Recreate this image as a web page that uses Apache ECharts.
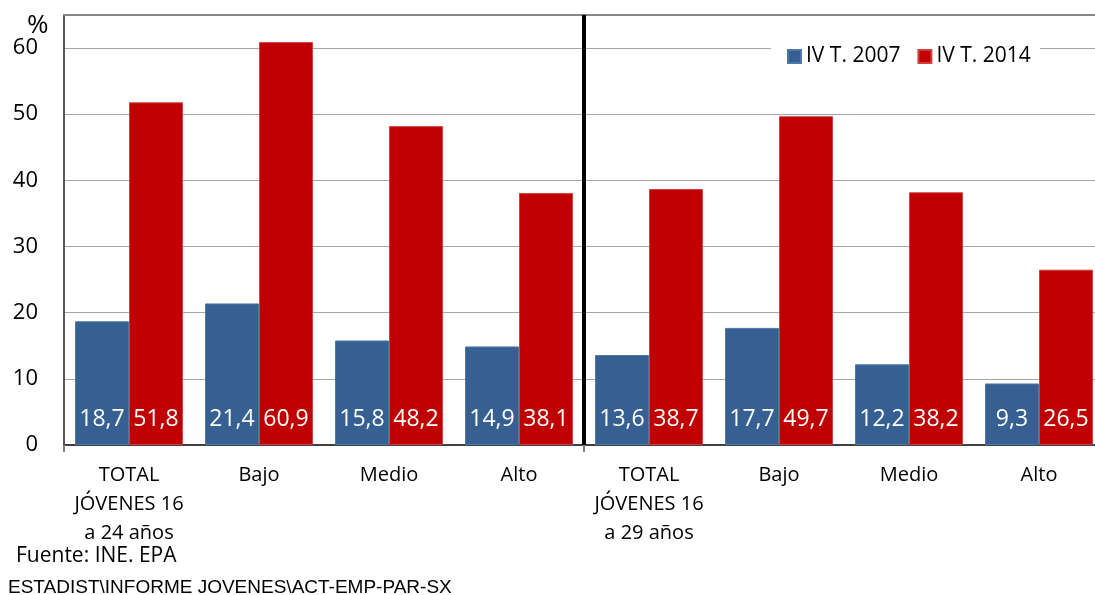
<!DOCTYPE html>
<html>
<head>
<meta charset="utf-8">
<script src="https://cdn.jsdelivr.net/npm/echarts@6/dist/echarts.min.js"></script>
<style>
html,body{margin:0;padding:0;background:#fff;overflow:hidden;}
#c{width:1095px;height:595px;}
</style>
</head>
<body>
<div id="c"></div>
<script>
const categories = ["TOTAL\nJÓVENES 16\na 24 años", "Bajo", "Medio", "Alto", "TOTAL\nJÓVENES 16\na 29 años", "Bajo", "Medio", "Alto"];
const series2007 = [18.7, 21.4, 15.8, 14.9, 13.6, 17.7, 12.2, 9.3];
const series2014 = [51.8, 60.9, 48.2, 38.1, 38.7, 49.7, 38.2, 26.5];
const seriesNames = ["IV T. 2007", "IV T. 2014"];
const yTicks = [0, 10, 20, 30, 40, 50, 60];

const FONT = "Open Sans";
const chart = echarts.init(document.getElementById('c'), null, {renderer: 'canvas'});
const fmt = v => v.toFixed(1).replace('.', ',');
const labelCfg = {
  show: true, position: 'insideBottom', distance: 14, color: '#fff',
  fontFamily: FONT, fontSize: 23, formatter: p => fmt(p.value)
};
const texts = [
  {id: 'pct', type: 'text', left: 27, top: 13, style: {text: '%', fontFamily: FONT, fontSize: 26, fill: '#000'}},
  {id: 'src', type: 'text', left: 16, top: 546, style: {text: 'Fuente: INE. EPA', fontFamily: FONT, fontSize: 21, fill: '#000'}},
  {id: 'path', type: 'text', left: 8, top: 578, style: {text: 'ESTADIST\\INFORME JOVENES\\ACT-EMP-PAR-SX', fontFamily: 'Liberation Sans', fontSize: 19, fill: '#000'}}
];
chart.setOption({
  animation: false,
  textStyle: {fontFamily: FONT},
  grid: {show: false, left: 64, top: 15, width: 1040, height: 430, containLabel: false, outerBoundsMode: 'none'},
  legend: {
    data: seriesNames, left: 771, top: 40, icon: 'rect', itemWidth: 13, itemHeight: 13,
    itemGap: 17, padding: [6, 9, 6, 16], backgroundColor: '#fff',
    textStyle: {fontFamily: FONT, fontSize: 21, color: '#000'}
  },
  xAxis: [{
    type: 'category', data: categories, boundaryGap: true,
    axisLine: {show: true, onZero: false, lineStyle: {color: '#404040', width: 2}},
    axisTick: {show: true, interval: (i) => i === 0 || i === 4, length: 7, lineStyle: {color: '#808080', width: 2}},
    axisLabel: {interval: 0, margin: 16, color: '#000', fontFamily: FONT, fontSize: 20, lineHeight: 29},
    splitLine: {show: false}, splitArea: {show: false}
  }, {
    type: 'category', data: categories, position: 'top',
    axisLine: {show: true, onZero: false, lineStyle: {color: '#868686', width: 2}},
    axisTick: {show: false}, axisLabel: {show: false}, splitLine: {show: false}, splitArea: {show: false}
  }],
  yAxis: {
    type: 'value', min: 0, max: 65, interval: 10,
    axisLine: {show: true, onZero: false, lineStyle: {color: '#595959', width: 2}},
    axisTick: {show: false},
    axisLabel: {margin: 26, color: '#000', fontFamily: FONT, fontSize: 22,
      formatter: v => yTicks.indexOf(v) >= 0 ? String(v) : ''},
    splitLine: {show: true, lineStyle: {color: '#a6a6a6', width: 1}},
    splitArea: {show: false}
  },
  series: [{
    name: seriesNames[0], type: 'bar', data: series2007, barWidth: 54, barGap: '0%',
    itemStyle: {color: '#376092', borderColor: '#4f78a8', borderWidth: 1},
    label: labelCfg
  }, {
    name: seriesNames[1], type: 'bar', data: series2014, barWidth: 54, barGap: '0%',
    itemStyle: {color: '#C00000', borderColor: '#d04040', borderWidth: 1},
    label: labelCfg
  }],
  graphic: texts
});

// Divider between the two groups, placed at the category boundary via the axis scale
const xa = chart.convertToPixel({xAxisIndex: 0}, 3);
const xb = chart.convertToPixel({xAxisIndex: 0}, 4);
const xd = (xa + xb) / 2;
const yTop = chart.convertToPixel({yAxisIndex: 0}, 65);
const yBot = chart.convertToPixel({yAxisIndex: 0}, 0);
chart.setOption({
  graphic: texts.concat([{
    id: 'divider', type: 'line', z: 100, shape: {x1: xd, y1: yTop, x2: xd, y2: yBot},
    style: {stroke: '#000', lineWidth: 4}
  }])
});
</script>
</body>
</html>
